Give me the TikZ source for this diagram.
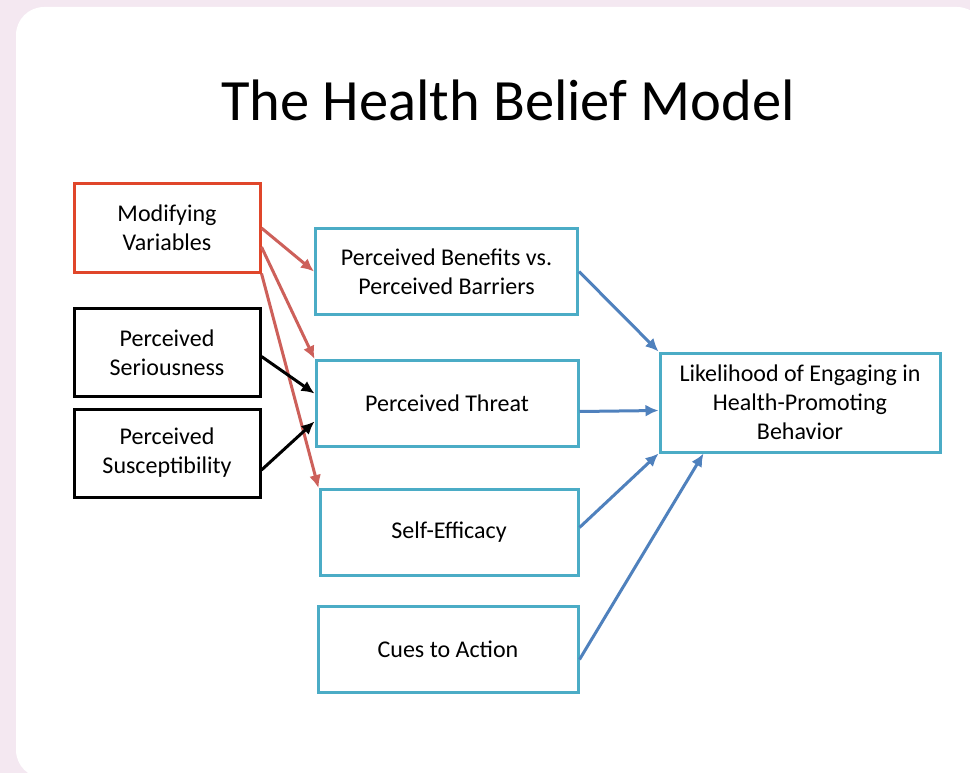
\documentclass[tikz,border=0pt]{standalone}
\usepackage{fontspec}
\setmainfont{Carlito}
\usetikzlibrary{arrows.meta}
\definecolor{bgpink}{RGB}{244,232,241}
\definecolor{modred}{RGB}{224,70,42}
\definecolor{arrowred}{RGB}{205,96,90}
\definecolor{aqua}{RGB}{75,172,198}
\definecolor{arrowblue}{RGB}{79,129,189}

\begin{document}
\begin{tikzpicture}[x=1pt, y=-1pt,
  box/.style={draw, line width=3pt, align=center, inner sep=0pt,
    font=\fontsize{24}{29}\selectfont},
  leftbox/.style={box, minimum width=186pt, minimum height=88pt},
  midbox/.style={box, draw=aqua, minimum width=262pt, minimum height=86pt},
  link/.style={line width=3pt, ->, >={Latex[length=13pt,width=12pt]}}]
\useasboundingbox (0,0) rectangle (970,773);
\clip (0,0) rectangle (970,773);
\fill[bgpink] (0,0) rectangle (970,773);
\fill[white, rounded corners=28pt] (16,7) rectangle (985,778);

\node[anchor=base, font=\fontsize{58.5}{70}\selectfont] (title) at (508,121) {The Health Belief Model};

\node[leftbox, draw=modred] (mod) at (167,228) {Modifying\\Variables};
\node[leftbox] (ser) at (167,352.5) {Perceived\\Seriousness};
\node[leftbox] (sus) at (167,453) {Perceived\\Susceptibility};

\node[midbox] (ben) at (446.5,271.5) {Perceived Benefits vs.\\Perceived Barriers};
\node[midbox] (thr) at (447,403.5) {Perceived Threat};
\node[midbox, minimum width=258pt] (eff) at (449,532.5) {Self-Efficacy};
\node[midbox, minimum width=260pt] (cue) at (448,649.5) {Cues to Action};

\node[box, draw=aqua, minimum width=280pt, minimum height=99pt] (lik) at (800,402.5)
  {Likelihood of Engaging in\\Health-Promoting\\Behavior};

\draw[link, arrowred] (mod.east) -- (ben.west);
\draw[link, arrowred] ([yshift=-19pt]mod.east) -- (thr.north west);
\draw[link, arrowred] (mod.south east) -- (eff.north west);

\draw[link] ([yshift=-4pt]ser.east) -- ([yshift=10pt]thr.west);
\draw[link] ([yshift=-17pt]sus.east) -- ([yshift=-18pt]thr.west);

\draw[link, arrowblue] (ben.east) -- (lik.north west);
\draw[link, arrowblue] ([yshift=-8pt]thr.east) -- ([yshift=-8pt]lik.west);
\draw[link, arrowblue] ([yshift=5pt]eff.east) -- (lik.south west);
\draw[link, arrowblue] ([yshift=-10pt]cue.east) -- ([xshift=45pt]lik.south west);
\end{tikzpicture}
\end{document}
